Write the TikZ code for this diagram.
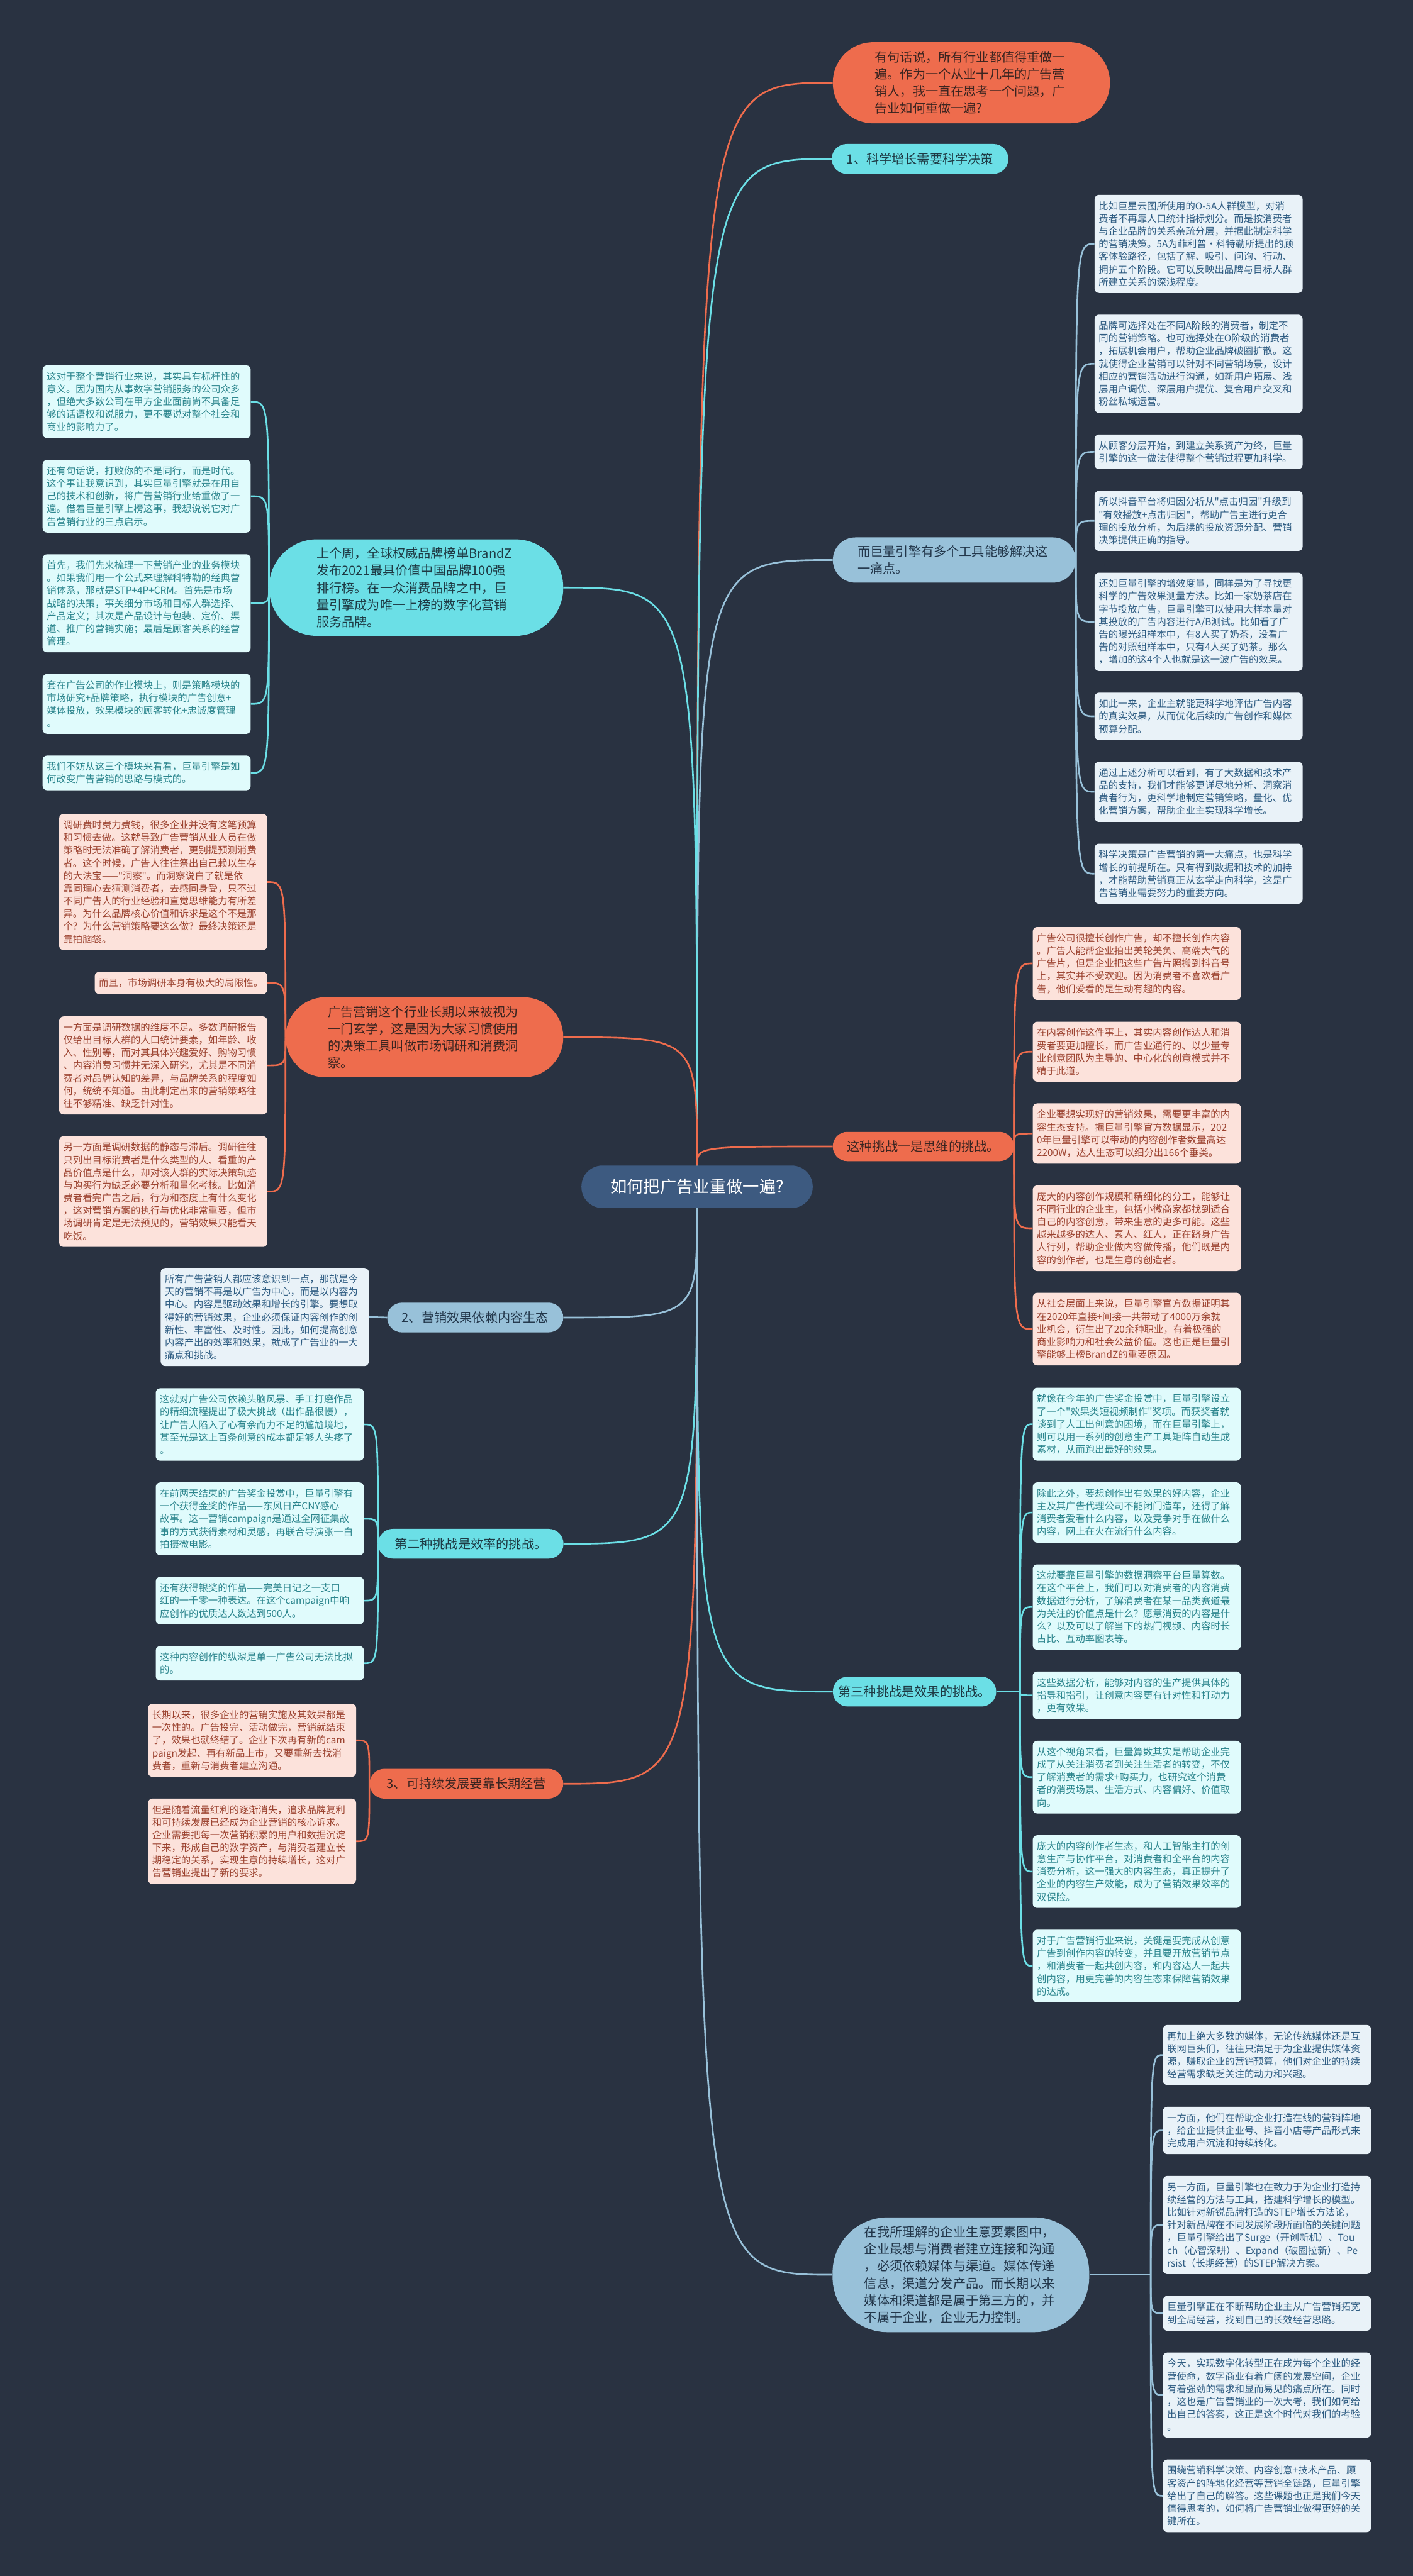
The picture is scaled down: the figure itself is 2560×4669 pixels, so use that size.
\documentclass[tikz,border=0pt]{standalone}
\usepackage{fontspec}
\newfontfamily\cjk{Noto Sans CJK SC}
\usetikzlibrary{positioning}

\definecolor{bgcol}{HTML}{293241}
\definecolor{hubcol}{HTML}{3D5A80}
\definecolor{orng}{HTML}{EE6C4D}
\definecolor{cyan}{HTML}{6BDFE6}
\definecolor{sky}{HTML}{98C1D9}
\definecolor{orngtxt}{HTML}{3A2420}
\definecolor{cyantxt}{HTML}{1E3A44}
\definecolor{skytxt}{HTML}{22364A}
\definecolor{lforng}{HTML}{FCE2DB}
\definecolor{lfcyan}{HTML}{E0FBFC}
\definecolor{lfsky}{HTML}{E9F2F8}
\definecolor{lforngtxt}{HTML}{9C4330}
\definecolor{lfcyantxt}{HTML}{2B858D}
\definecolor{lfskytxt}{HTML}{2E5C82}

\begin{document}
\begin{tikzpicture}[x=1pt, y=-1pt,
    every node/.style={font=\cjk},
    hub/.style={fill=hubcol, text=white, rounded corners=38, minimum width=419,
                minimum height=77, font=\cjk\fontsize{30}{36}\selectfont},
    branch/.style={align=left, inner sep=0pt, font=\cjk\fontsize{23}{31}\selectfont},
    brorng/.style={branch, fill=orng, text=orngtxt},
    brcyan/.style={branch, fill=cyan, text=cyantxt},
    brsky/.style={branch, fill=sky, text=skytxt},
    leaf/.style={rounded corners=8, text width=362, inner xsep=7.5, inner ysep=11.75,
                 align=left, font=\cjk\fontsize{17.5}{23}\selectfont},
    leaforng/.style={leaf, fill=lforng, text=lforngtxt},
    leafcyan/.style={leaf, fill=lfcyan, text=lfcyantxt},
    leafsky/.style={leaf, fill=lfsky, text=lfskytxt},
    link/.style={line width=3},
    lnorng/.style={link, draw=orng},
    lncyan/.style={link, draw=cyan},
    lnsky/.style={link, draw=sky}]

  \useasboundingbox (0,0) rectangle (2560,4669);
  \fill[bgcol] (0,0) rectangle (2560,4669);

  % centre and main branches
  \node[hub] (hub) at (1263,2151) {如何把广告业重做一遍?};

  \node[brorng, minimum width=502, minimum height=147, rounded corners=73, text width=350]
    (intro) at (1760,150) {有句话说，所有行业都值得重做一\\遍。作为一个从业十几年的广告营\\销人，我一直在思考一个问题，广\\告业如何重做一遍?};
  \node[brcyan, minimum width=320, minimum height=54, rounded corners=27, align=center]
    (sci) at (1667,288) {1、科学增长需要科学决策};
  \node[brsky, minimum width=440, minimum height=82, rounded corners=41, text width=350]
    (tool) at (1729,1015) {而巨量引擎有多个工具能够解决这\\一痛点。};
  \node[brorng, minimum width=328, minimum height=53, rounded corners=26, align=center]
    (think) at (1673,2078) {这种挑战一是思维的挑战。};
  \node[brcyan, minimum width=296, minimum height=54, rounded corners=27, align=center]
    (effect) at (1657,3066) {第三种挑战是效果的挑战。};
  \node[brsky, minimum width=465, minimum height=208, rounded corners=100, text width=350]
    (ecom) at (1741,4123) {在我所理解的企业生意要素图中，\\企业最想与消费者建立连接和沟通\\，必须依赖媒体与渠道。媒体传递\\信息，渠道分发产品。而长期以来\\媒体和渠道都是属于第三方的，并\\不属于企业，企业无力控制。};

  \node[brcyan, minimum width=533, minimum height=175, rounded corners=87, text width=361]
    (brandz) at (754,1065) {上个周，全球权威品牌榜单BrandZ\\发布2021最具价值中国品牌100强\\排行榜。在一众消费品牌之中，巨\\量引擎成为唯一上榜的数字化营销\\服务品牌。};
  \node[brorng, minimum width=503, minimum height=145, rounded corners=72, text width=350]
    (mystic) at (769,1880) {广告营销这个行业长期以来被视为\\一门玄学，这是因为大家习惯使用\\的决策工具叫做市场调研和消费洞\\察。};
  \node[brsky, minimum width=319, minimum height=54, rounded corners=27, align=center]
    (content) at (861,2388) {2、营销效果依赖内容生态};
  \node[brcyan, minimum width=336, minimum height=54, rounded corners=27, align=center]
    (effic) at (853,2798) {第二种挑战是效率的挑战。};
  \node[brorng, minimum width=351, minimum height=54, rounded corners=27, align=center]
    (longterm) at (845,3233) {3、可持续发展要靠长期经营};

  % leaves of tool
  \node[leafsky, anchor=north west] (b1) at (1983,353) {比如巨星云图所使用的O-5A人群模型，对消\\费者不再靠人口统计指标划分。而是按消费者\\与企业品牌的关系亲疏分层，并据此制定科学\\的营销决策。5A为菲利普·科特勒所提出的顾\\客体验路径，包括了解、吸引、问询、行动、\\拥护五个阶段。它可以反映出品牌与目标人群\\所建立关系的深浅程度。};
  \node[leafsky, below=39pt of b1] (b2) {品牌可选择处在不同A阶段的消费者，制定不\\同的营销策略。也可选择处在O阶级的消费者\\，拓展机会用户，帮助企业品牌破圈扩散。这\\就使得企业营销可以针对不同营销场景，设计\\相应的营销活动进行沟通，如新用户拓展、浅\\层用户调优、深层用户提优、复合用户交叉和\\粉丝私域运营。};
  \node[leafsky, below=39pt of b2] (b3) {从顾客分层开始，到建立关系资产为终，巨量\\引擎的这一做法使得整个营销过程更加科学。};
  \node[leafsky, below=39pt of b3] (b4) {所以抖音平台将归因分析从"点击归因"升级到\\"有效播放+点击归因"，帮助广告主进行更合\\理的投放分析，为后续的投放资源分配、营销\\决策提供正确的指导。};
  \node[leafsky, below=39pt of b4] (b5) {还如巨量引擎的增效度量，同样是为了寻找更\\科学的广告效果测量方法。比如一家奶茶店在\\字节投放广告，巨量引擎可以使用大样本量对\\其投放的广告内容进行A/B测试。比如看了广\\告的曝光组样本中，有8人买了奶茶，没看广\\告的对照组样本中，只有4人买了奶茶。那么\\，增加的这4个人也就是这一波广告的效果。};
  \node[leafsky, below=39pt of b5] (b6) {如此一来，企业主就能更科学地评估广告内容\\的真实效果，从而优化后续的广告创作和媒体\\预算分配。};
  \node[leafsky, below=39pt of b6] (b7) {通过上述分析可以看到，有了大数据和技术产\\品的支持，我们才能够更详尽地分析、洞察消\\费者行为，更科学地制定营销策略，量化、优\\化营销方案，帮助企业主实现科学增长。};
  \node[leafsky, below=39pt of b7] (b8) {科学决策是广告营销的第一大痛点，也是科学\\增长的前提所在。只有得到数据和技术的加持\\，才能帮助营销真正从玄学走向科学，这是广\\告营销业需要努力的重要方向。};

  % leaves of brandz
  \node[leafcyan, anchor=north west] (c1) at (77,662) {这对于整个营销行业来说，其实具有标杆性的\\意义。因为国内从事数字营销服务的公司众多\\，但绝大多数公司在甲方企业面前尚不具备足\\够的话语权和说服力，更不要说对整个社会和\\商业的影响力了。};
  \node[leafcyan, below=39pt of c1] (c2) {还有句话说，打败你的不是同行，而是时代。\\这个事让我意识到，其实巨量引擎就是在用自\\己的技术和创新，将广告营销行业给重做了一\\遍。借着巨量引擎上榜这事，我想说说它对广\\告营销行业的三点启示。};
  \node[leafcyan, below=39pt of c2] (c3) {首先，我们先来梳理一下营销产业的业务模块\\。如果我们用一个公式来理解科特勒的经典营\\销体系，那就是STP+4P+CRM。首先是市场\\战略的决策，事关细分市场和目标人群选择、\\产品定义；其次是产品设计与包装、定价、渠\\道、推广的营销实施；最后是顾客关系的经营\\管理。};
  \node[leafcyan, below=39pt of c3] (c4) {套在广告公司的作业模块上，则是策略模块的\\市场研究+品牌策略，执行模块的广告创意+\\媒体投放，效果模块的顾客转化+忠诚度管理\\。};
  \node[leafcyan, below=39pt of c4] (c5) {我们不妨从这三个模块来看看，巨量引擎是如\\何改变广告营销的思路与模式的。};

  % leaves of mystic
  \node[leaforng, anchor=north west] (o1) at (107,1475) {调研费时费力费钱，很多企业并没有这笔预算\\和习惯去做。这就导致广告营销从业人员在做\\策略时无法准确了解消费者，更别提预测消费\\者。这个时候，广告人往往祭出自己赖以生存\\的大法宝——"洞察"。而洞察说白了就是依\\靠同理心去猜测消费者，去感同身受，只不过\\不同广告人的行业经验和直觉思维能力有所差\\异。为什么品牌核心价值和诉求是这个不是那\\个？为什么营销策略要这么做？最终决策还是\\靠拍脑袋。};
  \node[leaforng, text width=, below=39pt of o1.south east, anchor=north east] (o2) {而且，市场调研本身有极大的局限性。};
  \node[leaforng, anchor=north west] (o3) at (107,1842) {一方面是调研数据的维度不足。多数调研报告\\仅给出目标人群的人口统计要素，如年龄、收\\入、性别等，而对其具体兴趣爱好、购物习惯\\、内容消费习惯并无深入研究，尤其是不同消\\费者对品牌认知的差异，与品牌关系的程度如\\何，统统不知道。由此制定出来的营销策略往\\往不够精准、缺乏针对性。};
  \node[leaforng, below=39pt of o3] (o4) {另一方面是调研数据的静态与滞后。调研往往\\只列出目标消费者是什么类型的人、看重的产\\品价值点是什么，却对该人群的实际决策轨迹\\与购买行为缺乏必要分析和量化考核。比如消\\费者看完广告之后，行为和态度上有什么变化\\，这对营销方案的执行与优化非常重要，但市\\场调研肯定是无法预见的，营销效果只能看天\\吃饭。};

  % leaf of content
  \node[leafsky, anchor=north west] (d1) at (291,2298) {所有广告营销人都应该意识到一点，那就是今\\天的营销不再是以广告为中心，而是以内容为\\中心。内容是驱动效果和增长的引擎。要想取\\得好的营销效果，企业必须保证内容创作的创\\新性、丰富性、及时性。因此，如何提高创意\\内容产出的效率和效果，就成了广告业的一大\\痛点和挑战。};

  % leaves of effic
  \node[leafcyan, anchor=north west] (e1) at (282,2516) {这就对广告公司依赖头脑风暴、手工打磨作品\\的精细流程提出了极大挑战（出作品很慢），\\让广告人陷入了心有余而力不足的尴尬境地，\\甚至光是这上百条创意的成本都足够人头疼了\\。};
  \node[leafcyan, below=39pt of e1] (e2) {在前两天结束的广告奖金投赏中，巨量引擎有\\一个获得金奖的作品——东风日产CNY感心\\故事。这一营销campaign是通过全网征集故\\事的方式获得素材和灵感，再联合导演张一白\\拍摄微电影。};
  \node[leafcyan, below=39pt of e2] (e3) {还有获得银奖的作品——完美日记之一支口\\红的一千零一种表达。在这个campaign中响\\应创作的优质达人数达到500人。};
  \node[leafcyan, below=39pt of e3] (e4) {这种内容创作的纵深是单一广告公司无法比拟\\的。};

  % leaves of longterm
  \node[leaforng, anchor=north west] (f1) at (268,3088) {长期以来，很多企业的营销实施及其效果都是\\一次性的。广告投完、活动做完，营销就结束\\了，效果也就终结了。企业下次再有新的cam\\paign发起、再有新品上市，又要重新去找消\\费者，重新与消费者建立沟通。};
  \node[leaforng, below=39pt of f1] (f2) {但是随着流量红利的逐渐消失，追求品牌复利\\和可持续发展已经成为企业营销的核心诉求。\\企业需要把每一次营销积累的用户和数据沉淀\\下来，形成自己的数字资产，与消费者建立长\\期稳定的关系，实现生意的持续增长，这对广\\告营销业提出了新的要求。};

  % leaves of think
  \node[leaforng, anchor=north west] (r1) at (1871,1680) {广告公司很擅长创作广告，却不擅长创作内容\\。广告人能帮企业拍出美轮美奂、高端大气的\\广告片，但是企业把这些广告片照搬到抖音号\\上，其实并不受欢迎。因为消费者不喜欢看广\\告，他们爱看的是生动有趣的内容。};
  \node[leaforng, below=39pt of r1] (r2) {在内容创作这件事上，其实内容创作达人和消\\费者要更加擅长，而广告业通行的、以少量专\\业创意团队为主导的、中心化的创意模式并不\\精于此道。};
  \node[leaforng, below=39pt of r2] (r3) {企业要想实现好的营销效果，需要更丰富的内\\容生态支持。据巨量引擎官方数据显示，202\\0年巨量引擎可以带动的内容创作者数量高达\\2200W，达人生态可以细分出166个垂类。};
  \node[leaforng, below=39pt of r3] (r4) {庞大的内容创作规模和精细化的分工，能够让\\不同行业的企业主，包括小微商家都找到适合\\自己的内容创意，带来生意的更多可能。这些\\越来越多的达人、素人、红人，正在跻身广告\\人行列，帮助企业做内容做传播，他们既是内\\容的创作者，也是生意的创造者。};
  \node[leaforng, below=39pt of r4] (r5) {从社会层面上来说，巨量引擎官方数据证明其\\在2020年直接+间接一共带动了4000万余就\\业机会，衍生出了20余种职业，有着极强的\\商业影响力和社会公益价值。这也正是巨量引\\擎能够上榜BrandZ的重要原因。};

  % leaves of effect
  \node[leafcyan, anchor=north west] (t1) at (1871,2515) {就像在今年的广告奖金投赏中，巨量引擎设立\\了一个"效果类短视频制作"奖项。而获奖者就\\谈到了人工出创意的困境，而在巨量引擎上，\\则可以用一系列的创意生产工具矩阵自动生成\\素材，从而跑出最好的效果。};
  \node[leafcyan, below=39pt of t1] (t2) {除此之外，要想创作出有效果的好内容，企业\\主及其广告代理公司不能闭门造车，还得了解\\消费者爱看什么内容，以及竞争对手在做什么\\内容，网上在火在流行什么内容。};
  \node[leafcyan, below=39pt of t2] (t3) {这就要靠巨量引擎的数据洞察平台巨量算数。\\在这个平台上，我们可以对消费者的内容消费\\数据进行分析，了解消费者在某一品类赛道最\\为关注的价值点是什么？愿意消费的内容是什\\么？以及可以了解当下的热门视频、内容时长\\占比、互动率图表等。};
  \node[leafcyan, below=39pt of t3] (t4) {这些数据分析，能够对内容的生产提供具体的\\指导和指引，让创意内容更有针对性和打动力\\，更有效果。};
  \node[leafcyan, below=39pt of t4] (t5) {从这个视角来看，巨量算数其实是帮助企业完\\成了从关注消费者到关注生活者的转变，不仅\\了解消费者的需求+购买力，也研究这个消费\\者的消费场景、生活方式、内容偏好、价值取\\向。};
  \node[leafcyan, below=39pt of t5] (t6) {庞大的内容创作者生态，和人工智能主打的创\\意生产与协作平台，对消费者和全平台的内容\\消费分析，这一强大的内容生态，真正提升了\\企业的内容生产效能，成为了营销效果效率的\\双保险。};
  \node[leafcyan, below=39pt of t6] (t7) {对于广告营销行业来说，关键是要完成从创意\\广告到创作内容的转变，并且要开放营销节点\\，和消费者一起共创内容，和内容达人一起共\\创内容，用更完善的内容生态来保障营销效果\\的达成。};

  % leaves of ecom
  \node[leafsky, anchor=north west] (u1) at (2107,3670) {再加上绝大多数的媒体，无论传统媒体还是互\\联网巨头们，往往只满足于为企业提供媒体资\\源，赚取企业的营销预算，他们对企业的持续\\经营需求缺乏关注的动力和兴趣。};
  \node[leafsky, below=39pt of u1] (u2) {一方面，他们在帮助企业打造在线的营销阵地\\，给企业提供企业号、抖音小店等产品形式来\\完成用户沉淀和持续转化。};
  \node[leafsky, below=39pt of u2] (u3) {另一方面，巨量引擎也在致力于为企业打造持\\续经营的方法与工具，搭建科学增长的模型。\\比如针对新锐品牌打造的STEP增长方法论，\\针对新品牌在不同发展阶段所面临的关键问题\\，巨量引擎给出了Surge（开创新机）、Tou\\ch（心智深耕）、Expand（破圈拉新）、Pe\\rsist（长期经营）的STEP解决方案。};
  \node[leafsky, below=39pt of u3] (u4) {巨量引擎正在不断帮助企业主从广告营销拓宽\\到全局经营，找到自己的长效经营思路。};
  \node[leafsky, below=39pt of u4] (u5) {今天，实现数字化转型正在成为每个企业的经\\营使命，数字商业有着广阔的发展空间，企业\\有着强劲的需求和显而易见的痛点所在。同时\\，这也是广告营销业的一次大考，我们如何给\\出自己的答案，这正是这个时代对我们的考验\\。};
  \node[leafsky, below=39pt of u5] (u6) {围绕营销科学决策、内容创意+技术产品、顾\\客资产的阵地化经营等营销全链路，巨量引擎\\给出了自己的解答。这些课题也正是我们今天\\值得思考的，如何将广告营销业做得更好的关\\键所在。};

  % connectors from the centre
  \draw[lnorng] (hub.north) .. controls (hub.north |- intro.west) .. (intro.west);
  \draw[lncyan] (hub.north) .. controls (hub.north |- sci.west) .. (sci.west);
  \draw[lnsky] (hub.north) .. controls (hub.north |- tool.west) .. (tool.west);
  \draw[lnorng] (hub.north) .. controls (hub.north |- think.west) .. (think.west);
  \draw[lncyan] (hub.north) .. controls (hub.north |- brandz.east) .. (brandz.east);
  \draw[lnorng] (hub.north) .. controls (hub.north |- mystic.east) .. (mystic.east);
  \draw[lnsky] (hub.south) .. controls (hub.south |- content.east) .. (content.east);
  \draw[lncyan] (hub.south) .. controls (hub.south |- effic.east) .. (effic.east);
  \draw[lnorng] (hub.south) .. controls (hub.south |- longterm.east) .. (longterm.east);
  \draw[lncyan] (hub.south) .. controls (hub.south |- effect.west) .. (effect.west);
  \draw[lnsky] (hub.south) .. controls (hub.south |- ecom.west) .. (ecom.west);

  % connectors to the leaves
  \coordinate (fkeff) at (1848,3066);
  \coordinate (fkeco) at (2085,4123);
  \draw[lncyan] (effect.east) -- (fkeff);
  \draw[lnsky] (ecom.east) -- (fkeco);
  \foreach \l in {b1,b2,b3,b4,b5,b6,b7,b8}
    \draw[lnsky] (tool.east) .. controls (tool.east |- \l.west) .. (\l.west);
  \foreach \l in {r1,r2,r3,r4,r5}
    \draw[lnorng] (think.east) .. controls (think.east |- \l.west) .. (\l.west);
  \foreach \l in {t1,t2,t3,t4,t5,t6,t7}
    \draw[lncyan] (fkeff) .. controls (fkeff |- \l.west) .. (\l.west);
  \foreach \l in {u1,u2,u3,u4,u5,u6}
    \draw[lnsky] (fkeco) .. controls (fkeco |- \l.west) .. (\l.west);
  \foreach \l in {c1,c2,c3,c4,c5}
    \draw[lncyan] (brandz.west) .. controls (brandz.west |- \l.east) .. (\l.east);
  \foreach \l in {o1,o2,o3,o4}
    \draw[lnorng] (mystic.west) .. controls (mystic.west |- \l.east) .. (\l.east);
  \draw[lnsky] (content.west) -- (d1.east);
  \foreach \l in {e1,e2,e3,e4}
    \draw[lncyan] (effic.west) .. controls (effic.west |- \l.east) .. (\l.east);
  \foreach \l in {f1,f2}
    \draw[lnorng] (longterm.west) .. controls (longterm.west |- \l.east) .. (\l.east);
\end{tikzpicture}
\end{document}
